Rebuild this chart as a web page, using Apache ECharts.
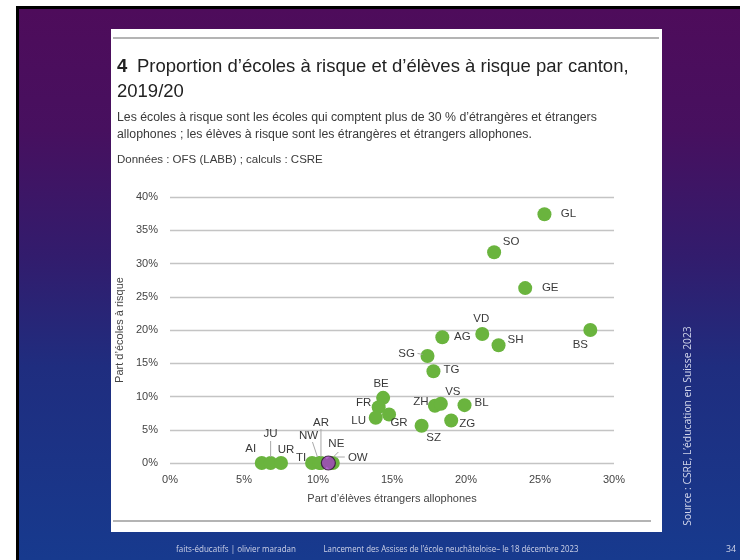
<!DOCTYPE html>
<html>
<head>
<meta charset="utf-8">
<script src="https://cdn.jsdelivr.net/npm/echarts@6/dist/echarts.min.js"></script>
<style>
html,body{margin:0;padding:0;width:740px;height:560px;overflow:hidden;background:#fff;}
#slide{position:absolute;left:16px;top:6px;width:724px;height:554px;box-sizing:border-box;border-left:3px solid #000;border-top:3px solid #000;
  background:linear-gradient(to bottom,#4e0c5b 0%,#47105f 22%,#321c6d 45%,#1f2d7f 65%,#173a8e 100%);}
#card{position:absolute;left:111px;top:29px;width:551px;height:503px;background:#fff;}
#topline{position:absolute;left:113px;top:37px;width:546px;height:2px;background:#b4b4b4;}
#botline{position:absolute;left:113px;top:520px;width:538px;height:2px;background:#b4b4b4;}
#chart{position:absolute;left:0;top:0;width:740px;height:560px;}
</style>
</head>
<body>
<div id="slide"></div>
<div id="card"></div>
<div id="topline"></div>
<div id="botline"></div>
<div id="chart"></div>
<script>
// ---- data ----
const cantons     = ['GL','SO','GE','VD','AG','SH','BS','SG','TG','BE','FR','GR','LU','ZH','VS','BL','ZG','SZ','AI','JU','UR','TI','NW','AR','OW'];
const allophones  = [25.3,21.9,24.0,21.1,18.4,22.2,28.4,17.4,17.8,14.4,14.1,14.8,13.9,17.9,18.3,19.9,19.0,17.0,6.2,6.8,7.5,9.6,10.1,10.2,11.0];
const ecolesRisque= [37.4,31.7,26.3,19.4,18.9,17.7,20.0,16.1,13.8,9.8,8.4,7.3,6.8,8.6,8.9,8.7,6.4,5.6,0,0,0,0,0,0,0];
const highlightCanton = ['NE'];
const highlightX = [10.7];
const highlightY = [0];
const xTickValues = [0,5,10,15,20,25,30];
const yTickValues = [0,5,10,15,20,25,30,35,40];

// ---- label placement (style, px offsets from the dot centre) ----
const labelOffset = {GL:[24,0],SO:[17,-10],GE:[25,0],VD:[-1,-15],AG:[20,0],SH:[17,-5],BS:[-10,15],SG:[-21,-2],TG:[18,-1],
  BE:[-2,-14],FR:[-15,-4],GR:[10,8],LU:[-17,3],ZH:[-14,-4],VS:[12,-12],BL:[17,-2],ZG:[16,3],SZ:[12,12],AI:[-11,-14],
  JU:[0,-29],UR:[5,-13],TI:[-11,-5],NW:[-11,-27],AR:[0,-40],OW:[25,-5],NE:[8,-19]};
const leaders = {SG:[[-10,-2.5],[-5,-1.5]],JU:[[0,-22],[0,-6]],NW:[[-7,-21],[-2,-6]],AR:[[0,-34],[0,-6]],NE:[[10,-11],[5,-6]],OW:[[3,-6],[12,-6]]};

const green = '#6ab43e';
const purple = '#a440c4';
const txt = '#3a3a3a';
const FONT = '"Liberation Sans", Arial, sans-serif';
const FOOT = '"Open Sans","Noto Sans",sans-serif';

const mainData = cantons.map((c,i)=>({name:c, value:[allophones[i], ecolesRisque[i]]}));
const hlData = highlightCanton.map((c,i)=>({name:c, value:[highlightX[i], highlightY[i]]}));
const leaderData = [];
cantons.forEach((c,i)=>{ if(leaders[c]) leaderData.push({name:c, value:[allophones[i], ecolesRisque[i]]}); });
highlightCanton.forEach((c,i)=>{ if(leaders[c]) leaderData.push({name:c, value:[highlightX[i], highlightY[i]]}); });

function layoutFor(names){
  return function(p){
    const o = labelOffset[names[p.dataIndex]] || [0,-14];
    const cx = p.rect.x + p.rect.width/2, cy = p.rect.y + p.rect.height/2;
    return {x: cx + o[0], y: cy + o[1], align:'center', verticalAlign:'middle'};
  };
}
function footText(x, y, s, size, sx, color){
  return {type:'text', x:x, y:y, scaleX:sx, style:{x:0, y:0, text:s, font:size+'px '+FOOT, fill:color, align:'center', verticalAlign:'middle'}};
}

const chart = echarts.init(document.getElementById('chart'), null, {renderer:'canvas'});
chart.setOption({
  backgroundColor:'transparent',
  animation:false,
  textStyle:{fontFamily:FONT},
  grid:{left:170, right:126, top:197, bottom:97, containLabel:false},
  xAxis:{type:'value', min:xTickValues[0], max:xTickValues[xTickValues.length-1], interval:5,
    axisLine:{show:false}, axisTick:{show:false}, splitLine:{show:false},
    axisLabel:{formatter:'{value}%', color:'#444', fontSize:11, margin:11, fontFamily:FONT},
    name:'Part d’élèves étrangers allophones', nameLocation:'middle', nameGap:30,
    nameTextStyle:{color:'#444', fontSize:11, fontFamily:FONT}},
  yAxis:{type:'value', min:yTickValues[0], max:yTickValues[yTickValues.length-1], interval:5,
    axisLine:{show:false}, axisTick:{show:false},
    splitLine:{lineStyle:{color:'#c4c4c4', width:1.3}},
    axisLabel:{formatter:'{value}%', color:'#444', fontSize:11, margin:12, fontFamily:FONT},
    name:'Part d’écoles à risque', nameLocation:'middle', nameGap:44, nameRotate:90,
    nameTextStyle:{color:'#444', fontSize:11, fontFamily:FONT}},
  graphic:[
    {type:'text', style:{x:117, y:67, text:'4', font:'bold 18.5px '+FONT, fill:'#222', verticalAlign:'middle'}},
    {type:'text', style:{x:137, y:67, text:'Proportion d’écoles à risque et d’élèves à risque par canton,', font:'18.5px '+FONT, fill:'#222', verticalAlign:'middle'}},
    {type:'text', style:{x:117, y:92, text:'2019/20', font:'18.5px '+FONT, fill:'#222', verticalAlign:'middle'}},
    {type:'text', style:{x:117, y:118, text:'Les écoles à risque sont les écoles qui comptent plus de 30 % d’étrangères et étrangers', font:'12.3px '+FONT, fill:txt, verticalAlign:'middle'}},
    {type:'text', style:{x:117, y:135, text:'allophones ; les élèves à risque sont les étrangères et étrangers allophones.', font:'12.3px '+FONT, fill:txt, verticalAlign:'middle'}},
    {type:'text', style:{x:117, y:160, text:'Données : OFS (LABB) ; calculs : CSRE', font:'11.5px '+FONT, fill:txt, verticalAlign:'middle'}},
    footText(236, 549, 'faits-éducatifs | olivier maradan', 9.8, 0.82, '#cfd3e8'),
    footText(451, 549, 'Lancement des Assises de l’école neuchâteloise– le 18 décembre 2023', 9.8, 0.8, '#cfd3e8'),
    footText(731, 549, '34', 9.8, 0.9, '#cfd3e8'),
    {type:'text', x:688, y:426, rotation:Math.PI/2, scaleX:0.98, style:{x:0, y:0, text:'Source : CSRE, L’éducation en Suisse 2023', font:'10.5px '+FOOT, fill:'#d0d4ea', align:'center', verticalAlign:'middle'}}
  ],
  series:[
    {type:'custom', coordinateSystem:'cartesian2d', z:3, silent:true, data:leaderData,
      renderItem:function(params, api){
        const c = api.coord([api.value(0), api.value(1)]);
        const seg = leaders[leaderData[params.dataIndex].name];
        return {type:'line', shape:{x1:c[0]+seg[0][0], y1:c[1]+seg[0][1], x2:c[0]+seg[1][0], y2:c[1]+seg[1][1]},
          style:{stroke:'#a8a8a8', lineWidth:1}};
      }},
    {type:'scatter', z:2, data:mainData, symbolSize:14, itemStyle:{color:green, opacity:1},
      label:{show:true, formatter:'{b}', color:txt, fontSize:11.5, fontFamily:FONT},
      labelLayout:layoutFor(cantons)},
    {type:'scatter', z:4, data:hlData, symbolSize:14, itemStyle:{color:purple, borderColor:'#2a1430', borderWidth:1.2},
      label:{show:true, formatter:'{b}', color:txt, fontSize:11.5, fontFamily:FONT, opacity:1},
      labelLayout:layoutFor(highlightCanton)}
  ]
});
</script>
</body>
</html>
